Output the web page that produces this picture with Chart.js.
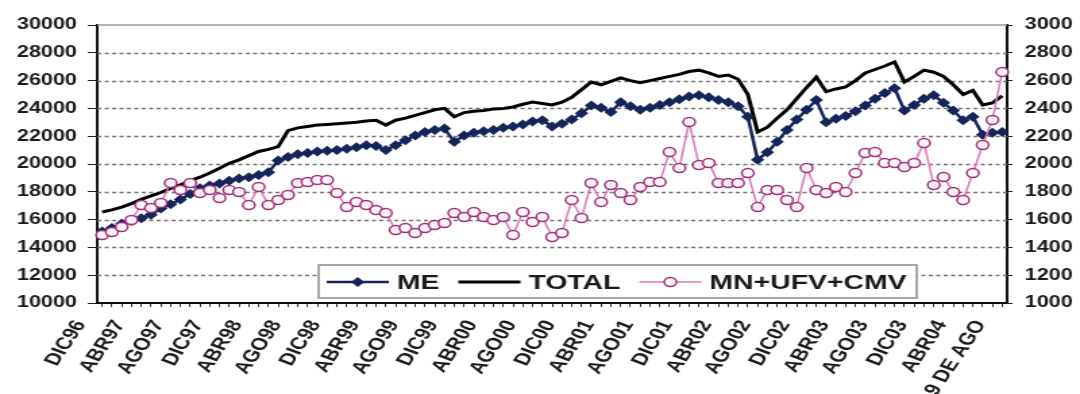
<!DOCTYPE html>
<html>
<head>
<meta charset="utf-8">
<script src="https://cdn.jsdelivr.net/npm/chart.js@4/dist/chart.umd.min.js"></script>
<style>
  html, body { margin: 0; padding: 0; background: #fff; overflow: hidden; }
  /* the chart is drawn narrow and widened, so type and markers come out broad */
  #wrap { width: 800px; height: 394px; transform: scaleX(1.35); transform-origin: 0 0; }
</style>
</head>
<body>
<div id="wrap"><canvas id="myChart" width="800" height="394"></canvas></div>
<script>
const ctx = document.getElementById('myChart');

// labels written under every fourth month
const tickLabels = ['DIC96','ABR97','AGO97','DIC97','ABR98','AGO98','DIC98','ABR99','AGO99',
  'DIC99','ABR00','AGO00','DIC00','ABR01','AGO01','DIC01','ABR02','AGO02','DIC02','ABR03',
  'AGO03','DIC03','ABR04','9 DE AGO'];
const nPoints = 93;
const categories = Array.from({length: nPoints}, (_, i) => i % 4 === 0 ? tickLabels[i / 4] : '');

// moneda extranjera (left axis)
const meValues = [
  15150, 15400, 15700, 15900, 16100, 16350, 16800, 17100, 17450, 17850,
  18250, 18450, 18600, 18800, 18950, 19050, 19200, 19400, 20250, 20500,
  20700, 20800, 20900, 20950, 21000, 21100, 21200, 21350, 21300, 21000,
  21350, 21700, 22050, 22300, 22450, 22550, 21600, 22050, 22250, 22350,
  22450, 22600, 22700, 22850, 23050, 23150, 22700, 22900, 23200, 23650,
  24200, 24050, 23750, 24450, 24150, 23900, 24050, 24250, 24450, 24650,
  24850, 24950, 24800, 24600, 24450, 24150, 23400, 20300, 20850, 21600,
  22450, 23200, 23900, 24600, 23000, 23250, 23450, 23800, 24200, 24700,
  25100, 25450, 23850, 24250, 24700, 24950, 24400, 23850, 23150, 23400,
  22100, 22250, 22300
];

// total (left axis)
const totalValues = [
  16550, 16700, 16900, 17150, 17450, 17700, 17950, 18250, 18500, 18800,
  19050, 19350, 19700, 20050, 20300, 20600, 20900, 21050, 21250, 22400,
  22600, 22700, 22800, 22850, 22900, 22950, 23000, 23100, 23150, 22800,
  23150, 23300, 23500, 23700, 23900, 24000, 23400, 23700, 23800, 23850,
  23950, 24000, 24100, 24300, 24450, 24350, 24250, 24450, 24800, 25350,
  25900, 25700, 25950, 26200, 26000, 25850, 26000, 26150, 26300, 26450,
  26650, 26750, 26550, 26300, 26400, 26100, 25000, 22300, 22650, 23300,
  23900, 24700, 25500, 26250, 25200, 25400, 25550, 26000, 26550, 26800,
  27050, 27350, 25900, 26300, 26750, 26600, 26300, 25700, 25000, 25300,
  24250, 24400, 24900
];

// moneda nacional + UFV + CMV (right axis)
const mnValues = [
  1489, 1511, 1547, 1597, 1705, 1683, 1719, 1863, 1813, 1863,
  1791, 1813, 1755, 1813, 1799, 1705, 1835, 1705, 1741, 1777,
  1863, 1870, 1885, 1885, 1791, 1690, 1727, 1705, 1669, 1647,
  1525, 1540, 1504, 1540, 1561, 1575, 1647, 1619, 1655, 1619,
  1597, 1619, 1489, 1655, 1583, 1619, 1475, 1504, 1741, 1612,
  1863, 1727, 1849, 1791, 1741, 1835, 1870, 1870, 2086, 1971,
  2302, 1993, 2007, 1863, 1863, 1863, 1935, 1690, 1813, 1813,
  1741, 1690, 1971, 1813, 1791, 1835, 1799, 1935, 2079, 2086,
  2007, 2007, 1978, 2007, 2151, 1849, 1906, 1799, 1741, 1935,
  2137, 2317, 2662
];

const leftTicks = {min: 10000, max: 30000, step: 2000};
const rightTicks = {min: 1000, max: 3000, step: 200};

const navy = '#15255a';
const pinkLine = '#dc78b8';
const pinkMark = '#a32f7c';
const font = '"Liberation Sans", Arial, sans-serif';

// boxed legend sitting inside the plot, over the grid
const legendBox = {
  id: 'legendBox',
  afterDraw(chart) {
    const c = chart.ctx;
    const y = 282;
    c.save();
    c.setLineDash([]);
    c.fillStyle = '#fff';
    c.fillRect(236, 265, 443, 33);
    c.strokeStyle = '#8c8c8c';
    c.lineWidth = 1.5;
    c.strokeRect(236, 265, 443, 33);
    c.font = 'bold 21px ' + font;
    c.textBaseline = 'middle';
    let x = 242;
    chart.data.datasets.forEach(ds => {
      c.strokeStyle = ds.borderColor;
      c.lineWidth = ds.borderWidth;
      c.beginPath();
      c.moveTo(x, y);
      c.lineTo(x + 46, y);
      c.stroke();
      const mx = x + 23;
      if (ds.pointStyle === 'rectRot') {
        c.fillStyle = ds.pointBackgroundColor;
        c.beginPath();
        c.moveTo(mx, y - 5); c.lineTo(mx + 5, y); c.lineTo(mx, y + 5); c.lineTo(mx - 5, y);
        c.closePath();
        c.fill();
      } else if (ds.pointStyle === 'circle') {
        c.fillStyle = ds.pointBackgroundColor;
        c.strokeStyle = ds.pointBorderColor;
        c.lineWidth = ds.pointBorderWidth;
        c.beginPath();
        c.arc(mx, y, 4.5, 0, Math.PI * 2);
        c.fill();
        c.stroke();
      }
      c.fillStyle = '#1a1a1a';
      c.fillText(ds.label, x + 52, y + 1);
      x += 52 + c.measureText(ds.label).width + 14;
    });
    c.restore();
  }
};

// dashed value lines and the grey frame line along the top of the plot
const plotFrame = {
  id: 'plotFrame',
  beforeDatasetsDraw(chart) {
    const c = chart.ctx;
    const a = chart.chartArea;
    const y = chart.scales.y;
    c.save();
    c.strokeStyle = '#707070';
    c.lineWidth = 1.3;
    c.setLineDash([3, 2.5]);
    for (let v = leftTicks.min + leftTicks.step; v < leftTicks.max; v += leftTicks.step) {
      const py = Math.round(y.getPixelForValue(v)) + 0.5;
      c.beginPath();
      c.moveTo(a.left, py);
      c.lineTo(a.right, py);
      c.stroke();
    }
    c.setLineDash([]);
    c.strokeStyle = '#9a9a9a';
    c.lineWidth = 1.5;
    c.beginPath();
    c.moveTo(a.left, a.top);
    c.lineTo(a.right, a.top);
    c.stroke();
    c.restore();
  }
};

const tickFont = {family: font, size: 16, weight: 'bold'};

new Chart(ctx, {
  type: 'line',
  data: {
    labels: categories,
    datasets: [{
      label: 'ME',
      data: meValues,
      yAxisID: 'y',
      borderColor: navy,
      borderWidth: 2.5,
      pointStyle: 'rectRot',
      pointRadius: 5,
      pointBorderWidth: 0,
      pointBackgroundColor: navy,
      order: 1
    }, {
      label: 'TOTAL',
      data: totalValues,
      yAxisID: 'y',
      borderColor: '#000',
      borderWidth: 3,
      pointRadius: 0,
      order: 2
    }, {
      label: 'MN+UFV+CMV',
      data: mnValues,
      yAxisID: 'y1',
      borderColor: pinkLine,
      borderWidth: 1.5,
      pointStyle: 'circle',
      pointRadius: 4.5,
      pointBorderWidth: 1.5,
      pointBorderColor: pinkMark,
      pointBackgroundColor: '#fff6fb',
      order: 0
    }]
  },
  options: {
    responsive: false,
    animation: false,
    devicePixelRatio: 1,
    layout: {padding: {top: 25, left: 0, right: 0, bottom: 0}},
    elements: {line: {tension: 0}},
    plugins: {
      legend: {display: false},
      tooltip: {enabled: false}
    },
    scales: {
      x: {
        type: 'category',
        offset: true,
        afterFit: s => { s.height = 91; },
        grid: {drawOnChartArea: false, tickLength: 4, tickColor: '#333', tickWidth: 1},
        border: {color: '#111', width: 2},
        ticks: {
          autoSkip: false,
          minRotation: 63,
          maxRotation: 63,
          padding: 10,
          labelOffset: -16,
          color: '#1a1a1a',
          font: {family: font, size: 17, weight: 'bold'}
        }
      },
      y: {
        position: 'left',
        min: leftTicks.min,
        max: leftTicks.max,
        afterFit: s => { s.width = 72; },
        grid: {drawOnChartArea: false, tickColor: '#222', tickLength: 7},
        border: {color: '#111', width: 2},
        ticks: {
          stepSize: leftTicks.step,
          padding: 8,
          color: '#1a1a1a',
          font: tickFont,
          callback: v => String(v)
        }
      },
      y1: {
        position: 'right',
        min: rightTicks.min,
        max: rightTicks.max,
        afterFit: s => { s.width = 54; },
        grid: {drawOnChartArea: false, tickColor: '#222', tickLength: 4},
        border: {color: '#111', width: 2},
        ticks: {
          stepSize: rightTicks.step,
          padding: 9,
          color: '#1a1a1a',
          font: tickFont,
          callback: v => String(v)
        }
      }
    }
  },
  plugins: [plotFrame, legendBox]
});
</script>
</body>
</html>
